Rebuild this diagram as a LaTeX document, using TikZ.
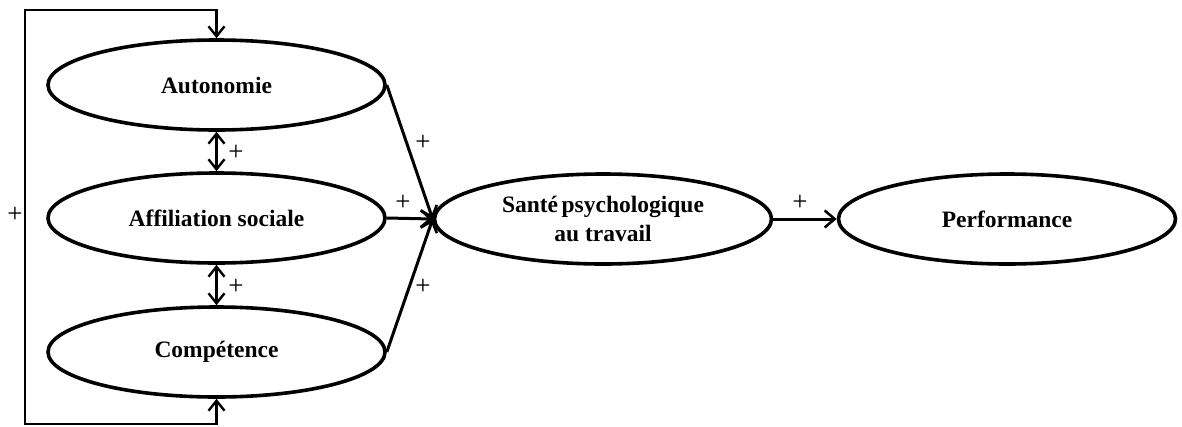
\documentclass[tikz,border=0pt]{standalone}
\usepackage{fontspec}
\setmainfont{Liberation Serif}
\usetikzlibrary{shapes.geometric,arrows.meta}
\begin{document}
\begin{tikzpicture}[x=1pt,y=-1pt,
  var/.style={ellipse,draw,line width=3.6pt,minimum width=337pt,minimum height=90pt,
    inner sep=0pt,align=center,font=\fontsize{23.5}{29}\selectfont\bfseries},
  link/.style={line width=3pt,-{Straight Barb[length=10pt,width=17pt,line width=2.6pt]}},
  biarrow/.style={line width=2.6pt,{Straight Barb[length=10pt,width=16pt,line width=2.4pt]}-{Straight Barb[length=10pt,width=16pt,line width=2.4pt]}},
  sign/.style={font=\fontsize{27}{30}\selectfont,inner sep=0pt}]
\useasboundingbox (0,0) rectangle (1182,426);
\node[var] (aut) at (216.5,85) {Autonomie};
\node[var] (aff) at (216.5,218) {Affiliation sociale};
\node[var] (comp) at (216.5,352) {Compétence};
\node[var] (sante) at (603,219) {Santé\hspace{0.15em}psychologique\\au travail};
\node[var] (perf) at (1007,219) {Performance};
% feedback loop around the three needs
\coordinate (lt) at (25,10);
\coordinate (lb) at (25,424);
\draw[biarrow,line width=2.2pt] (aut.north) |- (lt) -- (lb) -| (comp.south);
\node[sign] (p0) at (15,215) {+};
% links between the needs
\draw[biarrow] (aut.south) -- (aff.north);
\draw[biarrow] (aff.south) -- (comp.north);
\node[sign] (p1) at (236,153) {+};
\node[sign] (p2) at (236,287) {+};
% effects on psychological health
\draw[link] (aut.east) -- (sante.west);
\draw[link] (aff.east) -- (sante.west);
\draw[link] (comp.east) -- (sante.west);
\node[sign] (p3) at (423,143) {+};
\node[sign] (p4) at (403,203) {+};
\node[sign] (p5) at (423,287) {+};
% effect on performance
\draw[link] (sante.east) -- (perf.west);
\node[sign] (p6) at (800,203) {+};
\end{tikzpicture}
\end{document}
